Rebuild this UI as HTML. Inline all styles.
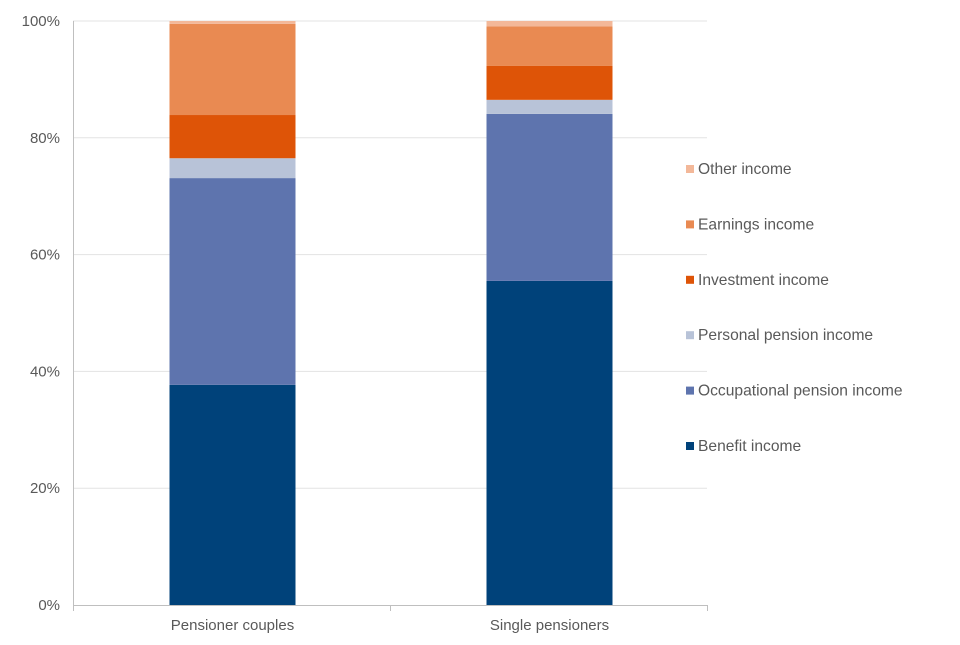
<!DOCTYPE html>
<html><head><meta charset="utf-8"><style>
body{margin:0;background:#fff;font-family:"Liberation Sans",Arial,sans-serif;}
text{font-family:"Liberation Sans",Arial,sans-serif;fill:#595959;font-size:15px;}
text.leg{font-size:15.6px;}
</style></head><body>
<svg id="chart" width="960" height="640"></svg>
<script>
const categories=["Pensioner couples","Single pensioners"];
const seriesNames=["Benefit income","Occupational pension income","Personal pension income","Investment income","Earnings income","Other income"];
const seriesColors=["#00427a","#5e74ae","#b8c3d8","#de5407","#e98a52","#f3b899"];
const benefit=[37.7,55.5];
const occupational=[35.4,28.6];
const personal=[3.4,2.4];
const investment=[7.4,5.8];
const earnings=[15.6,6.8];
const other=[0.5,0.9];
const yTicks=[0,20,40,60,80,100];
const yTickLabels=["0%","20%","40%","60%","80%","100%"];
const series=[benefit,occupational,personal,investment,earnings,other];
const NS="http://www.w3.org/2000/svg";
const svg=document.getElementById('chart');
const x0=73,x1=707,yTop=21,yBot=605;
const y=v=>yBot-(v/100)*(yBot-yTop);
const band=(x1-x0)/categories.length;
const barW=126;
const xc=i=>x0+1+band*(i+0.5);
function el(t,a){const e=document.createElementNS(NS,t);for(const k in a)e.setAttribute(k,a[k]);svg.appendChild(e);return e;}
yTicks.forEach((t,i)=>{
  if(t>0){const g=el('line',{x1:x0,x2:x1,y1:y(t),y2:y(t),stroke:'#e3e3e3','stroke-width':1});
  
  }
  const l=el('text',{x:60,y:y(t)+5,'text-anchor':'end'});l.textContent=yTickLabels[i];
  
  
});
categories.forEach((c,i)=>{
  let cum=0;
  series.forEach((s,k)=>{
    const v=s[i];
    const r=el('rect',{x:xc(i)-barW/2,y:y(cum+v),width:barW,height:y(cum)-y(cum+v),fill:seriesColors[k]});
    
    
    cum+=v;
  });
  const l=el('text',{x:xc(i),y:630,'text-anchor':'middle'});l.textContent=c;
  
  
});
const ax=el('line',{x1:x0,x2:x1,y1:yBot+0.5,y2:yBot+0.5,stroke:'#bfbfbf'});


const ay=el('line',{x1:x0+0.5,x2:x0+0.5,y1:yTop,y2:yBot,stroke:'#bfbfbf'});


[x0,x0+band,x1].forEach(tx=>{const t=el('line',{x1:tx+0.5,x2:tx+0.5,y1:yBot,y2:yBot+6,stroke:'#bfbfbf'});

});
for(let k=seriesNames.length-1;k>=0;k--){
  const ly=169+(5-k)*55.4;
  const r=el('rect',{x:686,y:ly-4,width:8,height:8,fill:seriesColors[k]});
  
  
  const t=el('text',{x:698,y:ly+5,'class':'leg'});t.textContent=seriesNames[k];
  
  
}
</script>
</body></html>
